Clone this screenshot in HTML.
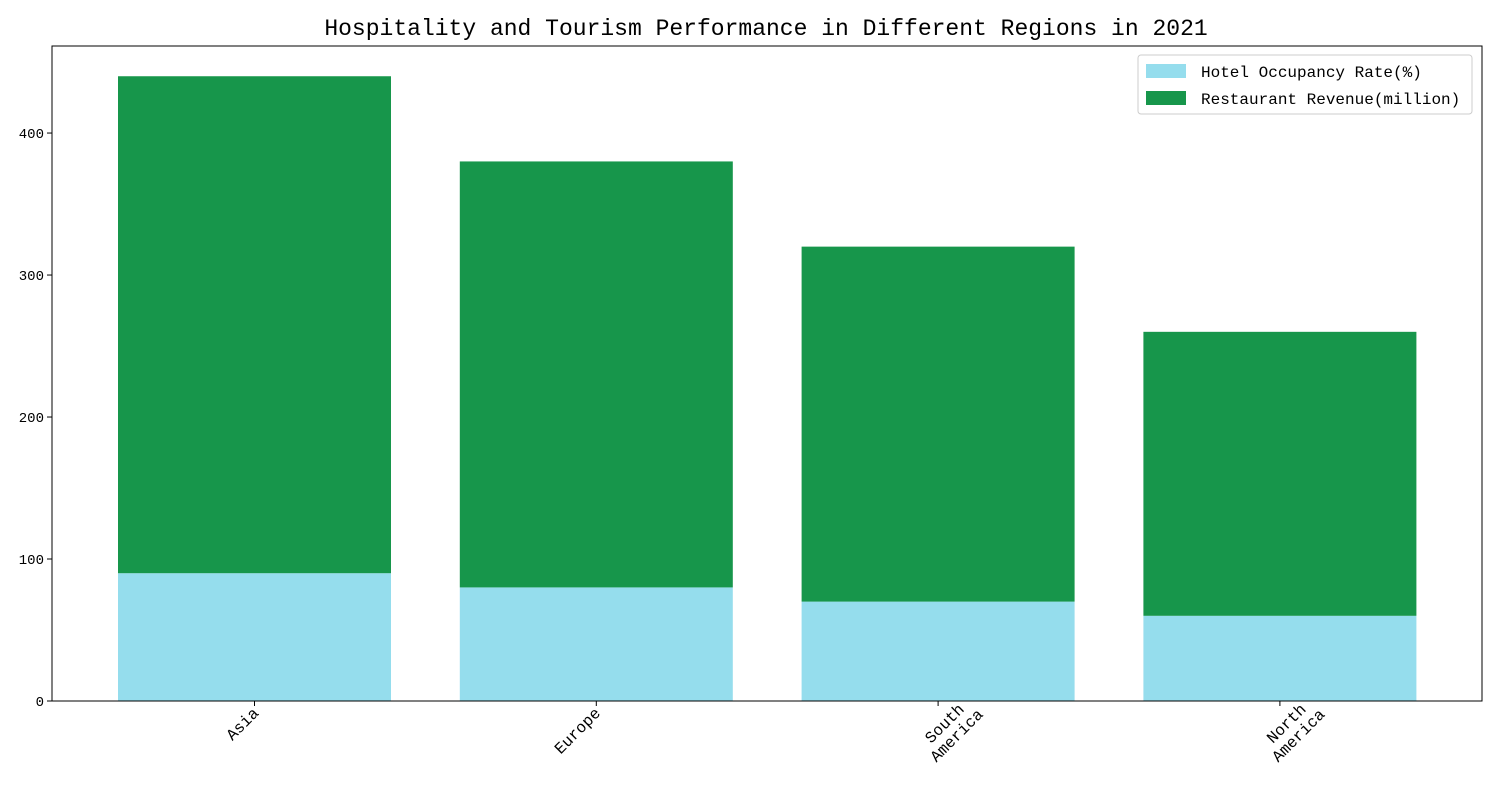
<!DOCTYPE html>
<html><head><meta charset="utf-8"><style>
body{margin:0;background:#fff;}
svg text{font-family:"Liberation Mono","WenQuanYi Zen Hei",monospace;fill:#000;}
</style></head><body>
<svg id="chart" width="1500" height="800" xmlns="http://www.w3.org/2000/svg">
<rect width="1500" height="800" fill="#fff"/>
<text x="766" y="35" font-size="23" text-anchor="middle">Hospitality and Tourism Performance in Different Regions in 2021</text>
<g id="bars"></g>
<g id="axes"></g>
<g>
<rect x="1138" y="55" width="334" height="59" fill="#fff" stroke="#ccc" rx="3"/>
<rect x="1146" y="64" width="40" height="14" fill="#95dded"/>
<text x="1201" y="77" font-size="16">Hotel Occupancy Rate(%)</text>
<rect x="1146" y="91" width="40" height="14" fill="#17964b"/>
<text x="1201" y="104" font-size="16">Restaurant Revenue(million)</text>
</g>
</svg>
<script>
const categories=[["Asia"],["Europe"],["South","America"],["North","America"]];
const hotel=[90,80,70,60];
const revenue=[350,300,250,200];
const yTicks=[0,100,200,300,400];
const NS="http://www.w3.org/2000/svg";
const L=52,R=1482,T=46,B=701,yMax=461.3;
const y=v=>B-v/yMax*(B-T);
const step=341.8;
const xC=i=>L+202.5+i*step;
const bw=273;
const bars=document.getElementById('bars'),axes=document.getElementById('axes');
function mk(tag,attrs,parent){const e=document.createElementNS(NS,tag);for(const k in attrs)e.setAttribute(k,attrs[k]);parent.appendChild(e);return e;}
categories.forEach((c,i)=>{
 const cx=xC(i);
 const r1=mk('rect',{x:cx-bw/2,y:y(hotel[i]),width:bw,height:y(0)-y(hotel[i]),fill:'#95dded'},bars);
 
 
 const top=hotel[i]+revenue[i];
 const r2=mk('rect',{x:cx-bw/2,y:y(top),width:bw,height:y(hotel[i])-y(top),fill:'#17964b'},bars);
 
 
 mk('line',{x1:cx,x2:cx,y1:B,y2:B+5,stroke:'#000'},axes);
 const t=mk('text',{'font-size':16,'text-anchor':'end',transform:`translate(${cx+5},${B+13}) rotate(-45)`},axes);
 
 
 c.forEach((ln,j)=>{const s=mk('tspan',{x:0,dy:j?17:0},t);s.textContent=ln;});
 if(c.length>1){t.setAttribute('transform',`translate(${cx+10},${B+26}) rotate(-45)`);t.setAttribute('text-anchor','middle');}
});
mk('rect',{x:L,y:T,width:R-L,height:B-T,fill:'none',stroke:'#000','stroke-width':1},axes);
yTicks.forEach(v=>{
 mk('line',{x1:L-5,x2:L,y1:y(v),y2:y(v),stroke:'#000'},axes);
 const t=mk('text',{x:L-8,y:y(v)+5,'font-size':14,'text-anchor':'end'},axes);
 
 
 t.textContent=v;
});
</script>
</body></html>
